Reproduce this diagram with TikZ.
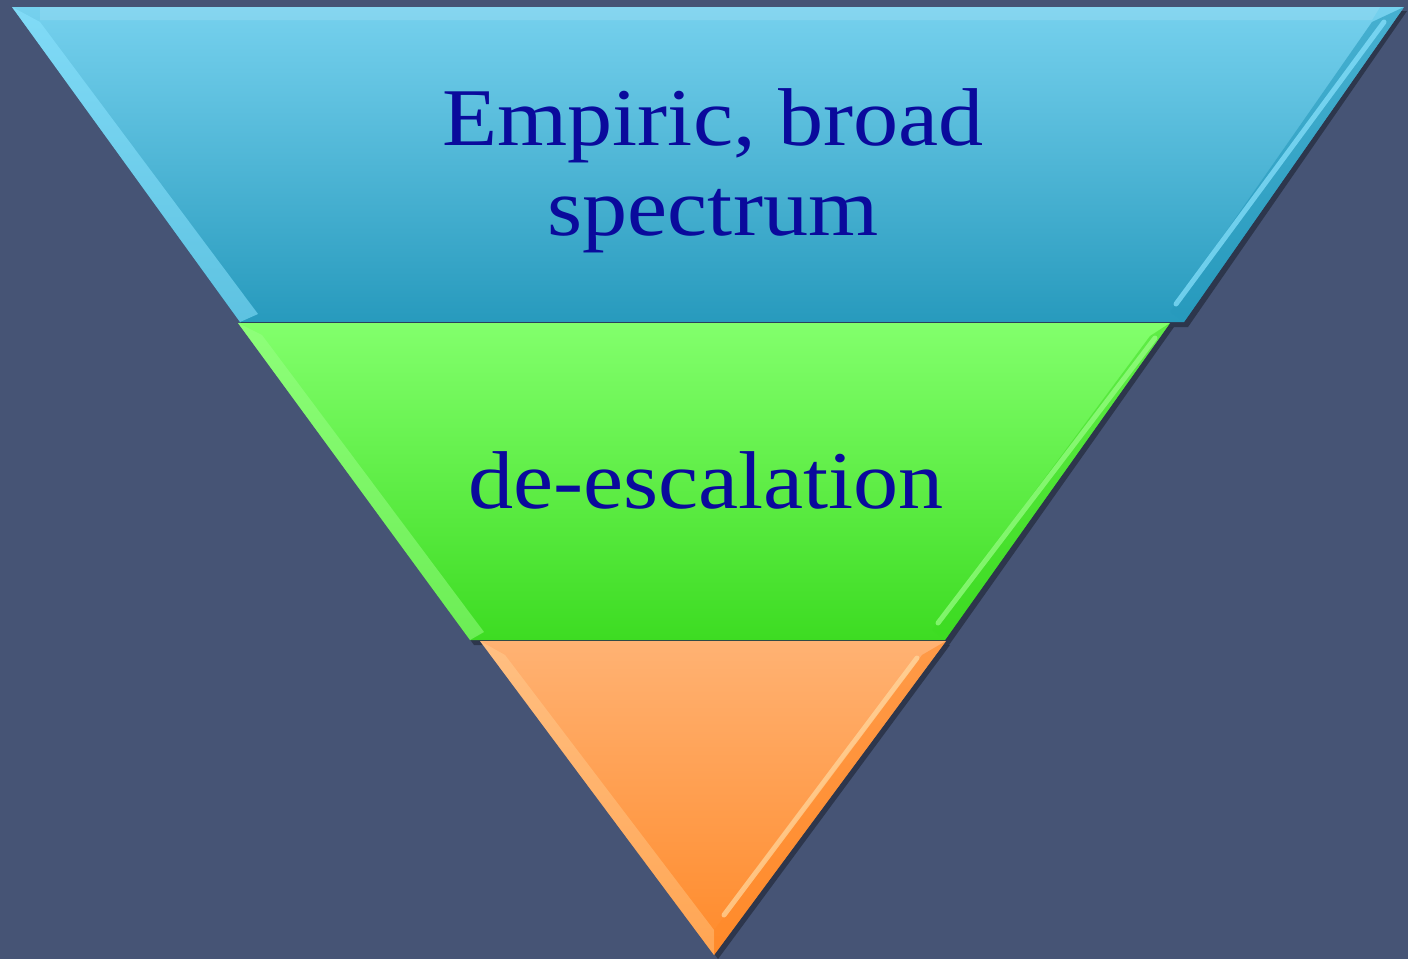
\documentclass[tikz,border=0pt]{standalone}
\usepackage{fontspec}
\setmainfont{Liberation Serif}[FakeStretch=1.1]
\definecolor{bg}{HTML}{465475}
\definecolor{txt}{HTML}{0A0A9C}
\definecolor{bluetop}{HTML}{76D1EE}
\definecolor{bluebot}{HTML}{279ABD}
\definecolor{bluehi}{HTML}{8BE4FF}
\definecolor{greentop}{HTML}{82FF6C}
\definecolor{greenbot}{HTML}{3DDC22}
\definecolor{greenhi}{HTML}{9BFF88}
\definecolor{orangetop}{HTML}{FFB273}
\definecolor{orangebot}{HTML}{FF8A2A}
\definecolor{orangehi}{HTML}{FFD9A0}
\tikzset{
  lbl/.style={text=txt, font=\fontsize{82}{90}\selectfont, align=center, inner sep=0pt},
  shadowfill/.style={fill=black, opacity=0.35},
  edgehi/.style={line width=5pt, opacity=0.7, line cap=round}
}
\begin{document}
\begin{tikzpicture}[x=1pt,y=-1pt]
\useasboundingbox (0,0) rectangle (1408,959);
\fill[bg] (0,0) rectangle (1408,959);
% shadows
\fill[shadowfill] (15,11) -- (1407,11) -- (1188,327) -- (244,327) -- cycle;
\fill[shadowfill] (242,327) -- (1174,327) -- (949,645) -- (474,645) -- cycle;
\fill[shadowfill] (484,645) -- (950,645) -- (718,959) -- cycle;
% top band
\shade[top color=bluetop, bottom color=bluebot] (12,7) -- (1404,7) -- (1184,322) -- (240,322) -- cycle;
\fill[bluehi, opacity=0.55] (12,7) -- (40,22) -- (258,314) -- (240,322) -- cycle;
\fill[white, opacity=0.12] (40,7) -- (1380,7) -- (1372,20) -- (40,20) -- cycle;
\fill[bluebot, opacity=0.6] (1404,7) -- (1372,22) -- (1170,312) -- (1184,322) -- cycle;
\draw[bluehi, edgehi] (1384,22) -- (1176,304);
% middle band
\shade[top color=greentop, bottom color=greenbot] (238,323) -- (1170,323) -- (945,640) -- (470,640) -- cycle;
\fill[greenhi, opacity=0.5] (238,323) -- (262,335) -- (484,632) -- (470,640) -- cycle;
\fill[greenbot, opacity=0.5] (1170,323) -- (1150,336) -- (932,630) -- (945,640) -- cycle;
\draw[greenhi, edgehi] (1155,338) -- (938,623);
% bottom band
\shade[top color=orangetop, bottom color=orangebot] (480,641) -- (946,641) -- (714,955) -- cycle;
\fill[orangehi, opacity=0.35] (480,641) -- (505,655) -- (714,930) -- (714,955) -- cycle;
\fill[orangebot, opacity=0.6] (946,641) -- (922,655) -- (714,930) -- (714,955) -- cycle;
\draw[orangehi, edgehi] (917,658) -- (724,915);
% labels
\node[lbl, anchor=base] (t1) at (713,145) {Empiric, broad};
\node[lbl, anchor=base] (t2) at (713,235) {spectrum};
\node[lbl, anchor=base] (t3) at (706,508) {de-escalation};
\end{tikzpicture}
\end{document}
